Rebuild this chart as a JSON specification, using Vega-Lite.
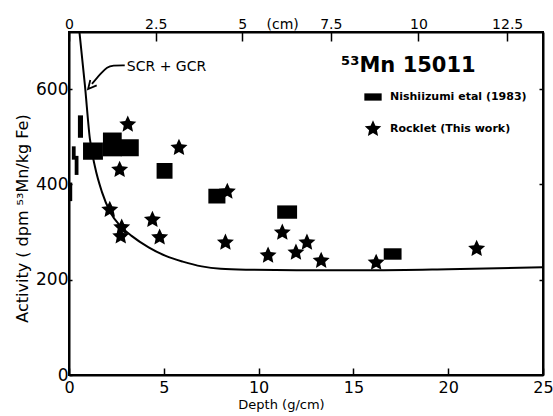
{
  "$schema": "https://vega.github.io/schema/vega-lite/v6.json",
  "width": 474,
  "height": 343,
  "autosize": "none",
  "padding": {"left": 69, "top": 32, "right": 10, "bottom": 41},
  "background": "white",
  "config": {
    "view": {"stroke": "black", "strokeWidth": 2},
    "font": "DejaVu Sans",
    "axis": {
      "grid": false,
      "domainColor": "black",
      "domainWidth": 2,
      "tickColor": "black",
      "tickWidth": 1.5,
      "labelColor": "black",
      "titleColor": "black",
      "labelFont": "DejaVu Sans",
      "titleFont": "DejaVu Sans",
      "titleFontWeight": "normal",
      "labelFlush": false,
      "labelOverlap": false
    }
  },
  "datasets": {
    "curveData": [
      {"depth": 0.55, "activity": 720},
      {"depth": 0.84, "activity": 608},
      {"depth": 1.1, "activity": 496},
      {"depth": 1.37, "activity": 437},
      {"depth": 1.73, "activity": 385},
      {"depth": 2.2, "activity": 340},
      {"depth": 2.7, "activity": 313},
      {"depth": 3.3, "activity": 292},
      {"depth": 4.2, "activity": 268},
      {"depth": 5.1, "activity": 250},
      {"depth": 6.0, "activity": 238},
      {"depth": 7.0, "activity": 228},
      {"depth": 8.0, "activity": 223},
      {"depth": 9.5, "activity": 221},
      {"depth": 12, "activity": 220},
      {"depth": 16, "activity": 220},
      {"depth": 20, "activity": 222},
      {"depth": 25, "activity": 226}
    ],
    "nishData": [
      {"d1": 0.0, "d2": 0.17, "a1": 365, "a2": 404},
      {"d1": 0.15, "d2": 0.35, "a1": 452, "a2": 480},
      {"d1": 0.3, "d2": 0.5, "a1": 420, "a2": 460},
      {"d1": 0.47, "d2": 0.74, "a1": 498, "a2": 545},
      {"d1": 0.74, "d2": 1.79, "a1": 452, "a2": 488},
      {"d1": 1.79, "d2": 2.78, "a1": 459, "a2": 509},
      {"d1": 2.73, "d2": 3.68, "a1": 459, "a2": 495},
      {"d1": 4.62, "d2": 5.46, "a1": 412, "a2": 445},
      {"d1": 7.35, "d2": 8.25, "a1": 360, "a2": 391},
      {"d1": 10.98, "d2": 12.03, "a1": 328, "a2": 356},
      {"d1": 16.6, "d2": 17.54, "a1": 242, "a2": 266}
    ],
    "rockData": [
      {"depth": 3.1, "activity": 526, "series": "Rocklet  (This work)"},
      {"depth": 5.8, "activity": 477, "series": "Rocklet  (This work)"},
      {"depth": 2.67, "activity": 431, "series": "Rocklet  (This work)"},
      {"depth": 8.35, "activity": 385, "series": "Rocklet  (This work)"},
      {"depth": 2.15, "activity": 347, "series": "Rocklet  (This work)"},
      {"depth": 2.78, "activity": 310, "series": "Rocklet  (This work)"},
      {"depth": 2.73, "activity": 291, "series": "Rocklet  (This work)"},
      {"depth": 4.4, "activity": 326, "series": "Rocklet  (This work)"},
      {"depth": 4.78, "activity": 289, "series": "Rocklet  (This work)"},
      {"depth": 8.25, "activity": 278, "series": "Rocklet  (This work)"},
      {"depth": 10.5, "activity": 251, "series": "Rocklet  (This work)"},
      {"depth": 11.25, "activity": 299, "series": "Rocklet  (This work)"},
      {"depth": 11.97, "activity": 257, "series": "Rocklet  (This work)"},
      {"depth": 12.55, "activity": 278, "series": "Rocklet  (This work)"},
      {"depth": 13.3, "activity": 240, "series": "Rocklet  (This work)"},
      {"depth": 16.2, "activity": 236, "series": "Rocklet  (This work)"},
      {"depth": 21.5, "activity": 265, "series": "Rocklet  (This work)"}
    ],
    "arrowData": [
      {"i": 0, "depth": 2.94, "activity": 650},
      {"i": 1, "depth": 2.3, "activity": 650},
      {"i": 2, "depth": 2.0, "activity": 646},
      {"i": 3, "depth": 1.75, "activity": 636},
      {"i": 4, "depth": 1.21, "activity": 611}
    ],
    "headData": [
      {"depth": 1.15, "activity": 607}
    ],
    "noteData": [
      {"depth": 3.05, "activity": 647, "text": "SCR + GCR"}
    ],
    "titleData": [
      {"depth": 17.9, "activity": 636, "text": "⁵³Mn 15011"}
    ]
  },
  "layer": [
    {
      "data": {"name": "curveData"},
      "mark": {"type": "line", "color": "black", "strokeWidth": 2, "interpolate": "monotone", "clip": true},
      "encoding": {
        "x": {
          "field": "depth", "type": "quantitative",
          "scale": {"domain": [0, 25], "nice": false},
          "axis": {"orient": "bottom", "values": [0, 5, 10, 15, 20, 25], "tickSize": -7, "labelPadding": 11, "labelFontSize": 16, "title": "Depth (g/cm)", "titleFontSize": 13, "titlePadding": 3, "titleX": 212}
        },
        "y": {
          "field": "activity", "type": "quantitative",
          "scale": {"domain": [0, 720], "nice": false},
          "axis": {"orient": "left", "values": [0, 200, 400, 600], "tickSize": -3, "labelPadding": 4, "labelFontSize": 17, "title": "Activity ( dpm ⁵³Mn/kg Fe)", "titleFontSize": 16, "titlePadding": 5, "titleY": 186}
        }
      }
    },
    {
      "data": {"name": "nishData"},
      "mark": {"type": "rect", "color": "black"},
      "encoding": {
        "x": {
          "field": "d1", "type": "quantitative",
          "scale": {"domain": [0, 25], "nice": false},
          "axis": {
            "orient": "top",
            "values": [0, 4.57, 9.14, 11.24, 13.81, 18.43, 23.11],
            "labelExpr": "datum.value == 0 ? '0' : datum.value < 5 ? '2.5' : datum.value < 10 ? '5' : datum.value < 12 ? '(cm)' : datum.value < 15 ? '7.5' : datum.value < 20 ? '10' : '12.5'",
            "tickSize": -9,
            "tickOpacity": {"condition": {"test": "datum.value > 11 && datum.value < 12", "value": 0}, "value": 1},
            "labelPadding": 10,
            "labelFontSize": 14,
            "title": null
          }
        },
        "x2": {"field": "d2"},
        "y": {
          "field": "a1", "type": "quantitative",
          "scale": {"domain": [0, 720], "nice": false},
          "axis": {"orient": "right", "values": [200, 400, 600], "labels": false, "tickSize": -4, "title": null}
        },
        "y2": {"field": "a2"}
      }
    },
    {
      "data": {"name": "rockData"},
      "mark": {"type": "point", "filled": true, "size": 320, "color": "black", "opacity": 1},
      "encoding": {
        "x": {"field": "depth", "type": "quantitative", "scale": {"domain": [0, 25], "nice": false}, "axis": null},
        "y": {"field": "activity", "type": "quantitative", "scale": {"domain": [0, 720], "nice": false}, "axis": null},
        "shape": {
          "field": "series", "type": "nominal",
          "scale": {
            "domain": ["Nishiizumi etal (1983)", "Rocklet  (This work)"],
            "range": ["M-1,-0.42H1V0.42H-1Z", "M0,-1L0.28,-0.38L0.951,-0.309L0.45,0.146L0.588,0.809L0,0.47L-0.588,0.809L-0.45,0.146L-0.951,-0.309L-0.28,-0.38Z"]
          },
          "legend": {
            "orient": "none", "legendX": 295, "legendY": 56, "title": null,
            "labelFont": "DejaVu Sans", "labelFontSize": 11, "labelFontWeight": "bold", "labelColor": "black",
            "symbolFillColor": "black", "symbolStrokeColor": "black", "symbolStrokeWidth": 0, "symbolSize": 300,
            "rowPadding": 18, "labelOffset": 8
          }
        }
      }
    },
    {
      "data": {"name": "arrowData"},
      "mark": {"type": "line", "color": "black", "strokeWidth": 1.8, "interpolate": "basis"},
      "encoding": {
        "x": {"field": "depth", "type": "quantitative", "scale": {"domain": [0, 25], "nice": false}, "axis": null},
        "y": {"field": "activity", "type": "quantitative", "scale": {"domain": [0, 720], "nice": false}, "axis": null},
        "order": {"field": "i", "type": "quantitative"}
      }
    },
    {
      "data": {"name": "headData"},
      "mark": {"type": "point", "shape": "M-1,1L0,-1L1,1", "filled": false, "size": 70, "color": "black", "strokeWidth": 1.8, "opacity": 1, "angle": 220},
      "encoding": {
        "x": {"field": "depth", "type": "quantitative", "scale": {"domain": [0, 25], "nice": false}, "axis": null},
        "y": {"field": "activity", "type": "quantitative", "scale": {"domain": [0, 720], "nice": false}, "axis": null}
      }
    },
    {
      "data": {"name": "noteData"},
      "mark": {"type": "text", "align": "left", "baseline": "middle", "font": "DejaVu Sans", "fontSize": 14, "color": "black"},
      "encoding": {
        "x": {"field": "depth", "type": "quantitative", "scale": {"domain": [0, 25], "nice": false}, "axis": null},
        "y": {"field": "activity", "type": "quantitative", "scale": {"domain": [0, 720], "nice": false}, "axis": null},
        "text": {"field": "text"}
      }
    },
    {
      "data": {"name": "titleData"},
      "mark": {"type": "text", "align": "center", "baseline": "alphabetic", "font": "DejaVu Sans", "fontSize": 21, "fontWeight": "bold", "color": "black"},
      "encoding": {
        "x": {"field": "depth", "type": "quantitative", "scale": {"domain": [0, 25], "nice": false}, "axis": null},
        "y": {"field": "activity", "type": "quantitative", "scale": {"domain": [0, 720], "nice": false}, "axis": null},
        "text": {"field": "text"}
      }
    }
  ]
}
